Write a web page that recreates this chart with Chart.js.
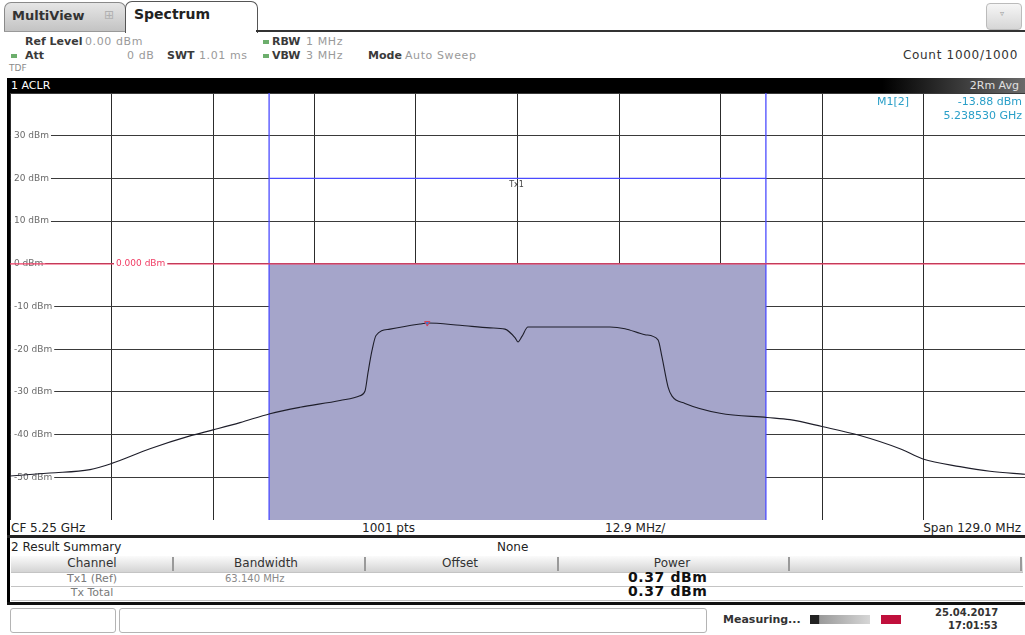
<!DOCTYPE html>
<html>
<head>
<meta charset="utf-8">
<script src="https://cdn.jsdelivr.net/npm/chart.js@4.4.1/dist/chart.umd.min.js"></script>
<style>
  html, body { margin: 0; padding: 0; background: #fff; }
  body { width: 1025px; height: 635px; position: relative; overflow: hidden;
         font-family: "DejaVu Sans", sans-serif; color: #222; }
  .a { position: absolute; white-space: nowrap; }
  .key { font-size: 11px; font-weight: 600; color: #3a3a3a; }
  .val { font-size: 11px; color: #9a9a9a; letter-spacing: 0.6px; }
  .dash { position: absolute; width: 6px; height: 4px; background: #6cae6c; }
  .hdr { font-size: 12px; color: #333; transform: translateX(-50%); }
  .cell { font-size: 11px; color: #7a7a7a; }
  .pow { font-size: 14px; font-weight: bold; color: #111; letter-spacing: 0.6px; }
  .hline { position: absolute; height: 1px; background: #c4c4c4; left: 11px; width: 1012px; }
  .sep { position: absolute; width: 2px; top: 557px; height: 14px; background: #9a9a9a; }
  #spec { position: absolute; left: 10px; top: 93px; }
</style>
</head>
<body>
  <!-- tab strip -->
  <div class="a" style="left:4px;top:2px;width:120px;height:29px;background:linear-gradient(#e6e6e6,#c2c2c2);border:1px solid #8a8a8a;border-bottom:none;border-radius:7px 7px 0 0;"></div>
  <div class="a" style="left:12px;top:8px;font-size:13px;font-weight:bold;color:#333;">MultiView</div>
  <div class="a" style="left:104px;top:8px;font-size:12px;color:#b0b0b0;">⊞</div>
  <div class="a" style="left:125px;top:1px;width:131px;height:31px;background:#fff;border:1px solid #555;border-bottom:none;border-radius:7px 7px 0 0;"></div>
  <div class="a" style="left:134px;top:6px;font-size:14px;font-weight:bold;color:#222;">Spectrum</div>
  <div class="a" style="left:4px;top:31px;width:121px;height:1px;background:#999;"></div>
  <div class="a" style="left:256px;top:30px;width:769px;height:2px;background:#333;"></div>
  <div class="a" style="left:986px;top:3px;width:34px;height:25px;background:linear-gradient(#f6f6f6,#d6d6d6);border:1px solid #bbb;border-radius:4px;"></div>
  <div class="a" style="left:1000px;top:9px;font-size:8px;color:#999;">▿</div>

  <!-- settings header -->
  <div class="a key" style="left:25px;top:35px;">Ref Level</div>
  <div class="a val" style="left:85px;top:35px;">0.00 dBm</div>
  <div class="dash" style="left:263px;top:40px;"></div>
  <div class="a key" style="left:272px;top:35px;">RBW</div>
  <div class="a val" style="left:306px;top:35px;">1 MHz</div>
  <div class="dash" style="left:11px;top:54px;"></div>
  <div class="a key" style="left:25px;top:49px;">Att</div>
  <div class="a val" style="left:127px;top:49px;">0 dB</div>
  <div class="a key" style="left:167px;top:49px;">SWT</div>
  <div class="a val" style="left:199px;top:49px;">1.01 ms</div>
  <div class="dash" style="left:263px;top:54px;"></div>
  <div class="a key" style="left:272px;top:49px;">VBW</div>
  <div class="a val" style="left:306px;top:49px;">3 MHz</div>
  <div class="a key" style="left:368px;top:49px;">Mode</div>
  <div class="a val" style="left:405px;top:49px;">Auto Sweep</div>
  <div class="a" style="left:9px;top:63px;font-size:9px;color:#8a8a8a;">TDF</div>
  <div class="a" style="right:7px;top:48px;font-size:12px;color:#333;letter-spacing:0.7px;">Count 1000/1000</div>

  <!-- window title bar -->
  <div class="a" style="left:7px;top:78px;width:1018px;height:15px;background:linear-gradient(to right,#000 0%,#000 86%,#6a6a6a 100%);"></div>
  <div class="a" style="left:11px;top:79px;font-size:11px;color:#fff;">1 ACLR</div>
  <div class="a" style="right:6px;top:79px;font-size:11px;color:#e0e0e0;">2Rm Avg</div>
  <div class="a" style="left:7px;top:78px;width:3px;height:527px;background:#000;"></div>

  <canvas id="spec" width="1015" height="427"></canvas>

  <!-- marker readout -->
  <div class="a" style="left:925px;top:94px;width:100px;height:28px;background:#fff;"></div>
  <div class="a" style="left:877px;top:95px;font-size:11px;color:#2a9fc8;">M1[2]</div>
  <div class="a" style="right:3px;top:95px;font-size:11px;color:#2a9fc8;">-13.88 dBm</div>
  <div class="a" style="right:3px;top:109px;font-size:11px;color:#2a9fc8;">5.238530 GHz</div>

  <!-- frequency axis footer -->
  <div class="a" style="left:11px;top:521px;font-size:12px;color:#222;">CF 5.25 GHz</div>
  <div class="a" style="left:362px;top:521px;font-size:12px;color:#222;">1001 pts</div>
  <div class="a" style="left:605px;top:521px;font-size:12px;color:#222;">12.9 MHz/</div>
  <div class="a" style="right:4px;top:521px;font-size:12px;color:#222;">Span 129.0 MHz</div>
  <div class="a" style="left:7px;top:535px;width:1018px;height:3px;background:#222;"></div>

  <!-- result summary table -->
  <div class="a" style="left:11px;top:540px;font-size:12px;color:#222;">2 Result Summary</div>
  <div class="a" style="left:497px;top:540px;font-size:12px;color:#222;">None</div>
  <div class="a" style="left:11px;top:556px;width:1012px;height:16px;background:linear-gradient(#fbfbfb,#d4d4d4);"></div>
  <div class="sep" style="left:172px;"></div>
  <div class="sep" style="left:364px;"></div>
  <div class="sep" style="left:557px;"></div>
  <div class="sep" style="left:788px;"></div>
  <div class="sep" style="left:1020px;"></div>
  <div class="a hdr" style="left:92px;top:556px;">Channel</div>
  <div class="a hdr" style="left:266px;top:556px;">Bandwidth</div>
  <div class="a hdr" style="left:460px;top:556px;">Offset</div>
  <div class="a hdr" style="left:672px;top:556px;">Power</div>
  <div class="hline" style="top:572px;"></div>
  <div class="hline" style="top:586px;"></div>
  <div class="hline" style="top:600px;"></div>
  <div class="a cell" style="left:92px;top:572px;transform:translateX(-50%);">Tx1 (Ref)</div>
  <div class="a cell" style="left:225px;top:573px;font-size:10px;color:#8a8a8a;">63.140 MHz</div>
  <div class="a pow" style="left:628px;top:569px;">0.37 dBm</div>
  <div class="a cell" style="left:92px;top:586px;transform:translateX(-50%);">Tx Total</div>
  <div class="a pow" style="left:628px;top:583px;">0.37 dBm</div>
  <div class="a" style="left:7px;top:602px;width:1018px;height:3px;background:#111;"></div>

  <!-- status bar -->
  <div class="a" style="left:10px;top:608px;width:104px;height:23px;border:1px solid #b4b4b4;border-radius:3px;"></div>
  <div class="a" style="left:119px;top:608px;width:586px;height:23px;border:1px solid #b4b4b4;border-radius:3px;"></div>
  <div class="a" style="left:723px;top:613px;font-size:11px;font-weight:600;color:#333;">Measuring...</div>
  <div class="a" style="left:810px;top:615px;width:60px;height:9px;background:linear-gradient(to right,#222 0%,#222 15%,#9a9a9a 16%,#d6d6d6 100%);"></div>
  <div class="a" style="left:881px;top:615px;width:20px;height:9px;background:#c0103c;"></div>
  <div class="a" style="left:935px;top:607px;font-size:10px;font-weight:bold;color:#333;">25.04.2017</div>
  <div class="a" style="left:948px;top:620px;font-size:10px;font-weight:bold;color:#333;">17:01:53</div>

<script>
// Sweep settings
const centerFreqGHz = 5.25;
const spanGHz = 0.129;
const freqStepGHz = 0.0129;          // 12.9 MHz per division
const levelMin = -60;
const levelMax = 40;
const refLevelDbm = 0;
const channelBwGHz = 0.06314;        // Tx1 bandwidth 63.140 MHz
const channelLimitDbm = 20;          // Tx1 limit line

// Trace 1 (RMS average), frequency in GHz and level in dBm
const traceFreqs = [
  5.18550, 5.19058, 5.19567, 5.19834, 5.20329, 5.20838, 5.21130, 5.21473,
  5.21854, 5.22236, 5.22744, 5.22998, 5.23062, 5.23100, 5.23151, 5.23202,
  5.23380, 5.23761, 5.23853, 5.24269, 5.24651, 5.24841, 5.24968, 5.25006,
  5.25057, 5.25133, 5.25540, 5.26176, 5.26366, 5.26620, 5.26786, 5.26836,
  5.26913, 5.26964, 5.27129, 5.27574, 5.28171, 5.28463, 5.28870, 5.29353,
  5.29861, 5.30153, 5.30624, 5.31005, 5.31450
];
const traceLevels = [
  -49.7, -49.0, -48.2, -46.8, -43.3, -40.3, -38.9, -37.2,
  -35.1, -33.6, -32.0, -30.9, -29.8, -25.5, -20.3, -16.8,
  -15.3, -14.1, -13.88, -14.4, -15.0, -15.3, -17.3, -18.3,
  -17.0, -14.8, -14.8, -14.8, -15.2, -16.6, -17.8, -21.8,
  -28.8, -31.0, -32.7, -35.0, -36.0, -36.5, -38.1, -40.2,
  -43.3, -45.7, -47.5, -48.6, -49.3
];

// Marker M1
const markerFreqs = [5.238530];
const markerLevels = [-13.88];

// Level grid values (dBm)
const levelTicks = [40, 30, 20, 10, 0, -10, -20, -30, -40, -50, -60];

const fStart = centerFreqGHz - spanGHz / 2;
const fStop = centerFreqGHz + spanGHz / 2;
const chLo = centerFreqGHz - channelBwGHz / 2;
const chHi = centerFreqGHz + channelBwGHz / 2;
const freqTicks = Array.from({ length: 11 }, (_, k) => fStart + k * freqStepGHz);

const tracePoints = traceFreqs.map((f, i) => ({ x: f, y: traceLevels[i] }));
const markerPoints = markerFreqs.map((f, i) => ({ x: f, y: markerLevels[i] }));

const CHANNEL_BLUE = '#4b4bff';
const REF_RED = '#f03c64';

// Level labels drawn inside the diagram, under the traces
const levelLabels = {
  id: 'levelLabels',
  beforeDatasetsDraw(chart) {
    const { ctx, scales: { x, y } } = chart;
    ctx.save();
    ctx.font = '9px "DejaVu Sans"';
    ctx.textBaseline = 'middle';
    y.ticks.forEach(t => {
      if (t.value === levelMax || t.value === levelMin) return;
      const py = y.getPixelForValue(t.value);
      const label = t.value + ' dBm';
      const w = ctx.measureText(label).width;
      ctx.fillStyle = '#fff';
      ctx.fillRect(x.left + 1, py - 5, w + 5, 10);
      ctx.fillStyle = '#6a6a6a';
      ctx.fillText(label, x.left + 4, py);
    });
    ctx.restore();
  },
  afterDatasetsDraw(chart) {
    const { ctx, scales: { x, y } } = chart;
    ctx.save();
    // reference level readout
    ctx.font = '9px "DejaVu Sans"';
    ctx.textBaseline = 'middle';
    const refTxt = refLevelDbm.toFixed(3) + ' dBm';
    const py = y.getPixelForValue(refLevelDbm);
    const tw = ctx.measureText(refTxt).width;
    ctx.fillStyle = '#fff';
    ctx.fillRect(x.left + 104, py - 5, tw + 4, 10);
    ctx.fillStyle = REF_RED;
    ctx.fillText(refTxt, x.left + 106, py);
    // channel name under the limit line
    ctx.font = '8px "DejaVu Sans"';
    ctx.fillStyle = '#444';
    ctx.textAlign = 'center';
    ctx.fillText('Tx1', x.getPixelForValue(centerFreqGHz) - 1, y.getPixelForValue(channelLimitDbm) + 7);
    ctx.restore();
  }
};

new Chart(document.getElementById('spec'), {
  type: 'line',
  data: {
    datasets: [
      {
        label: 'Trace 1',
        data: tracePoints,
        borderColor: '#1e1e2a',
        borderWidth: 1.1,
        pointRadius: 0,
        cubicInterpolationMode: 'monotone',
        order: 1
      },
      {
        label: 'M1',
        data: markerPoints,
        showLine: false,
        pointStyle: 'triangle',
        rotation: 180,
        pointRadius: 3,
        pointBackgroundColor: '#2a7fe0',
        pointBorderColor: '#e04050',
        pointBorderWidth: 1,
        order: 0
      },
      {
        label: 'Tx1 channel',
        data: [{ x: chLo, y: refLevelDbm }, { x: chHi, y: refLevelDbm }],
        borderWidth: 0,
        pointRadius: 0,
        fill: 'start',
        backgroundColor: '#a5a5ca',
        order: 9
      },
      {
        label: 'Ref level',
        data: [{ x: fStart, y: refLevelDbm }, { x: fStop, y: refLevelDbm }],
        borderColor: REF_RED,
        borderWidth: 1.3,
        pointRadius: 0,
        order: 3
      },
      {
        label: 'Tx1 lower edge',
        data: [{ x: chLo, y: levelMin }, { x: chLo, y: levelMax }],
        borderColor: CHANNEL_BLUE,
        borderWidth: 1.3,
        pointRadius: 0,
        order: 4
      },
      {
        label: 'Tx1 upper edge',
        data: [{ x: chHi, y: levelMin }, { x: chHi, y: levelMax }],
        borderColor: CHANNEL_BLUE,
        borderWidth: 1.3,
        pointRadius: 0,
        order: 4
      },
      {
        label: 'Tx1 limit',
        data: [{ x: chLo, y: channelLimitDbm }, { x: chHi, y: channelLimitDbm }],
        borderColor: CHANNEL_BLUE,
        borderWidth: 1.2,
        pointRadius: 0,
        order: 4
      }
    ]
  },
  options: {
    responsive: false,
    animation: false,
    devicePixelRatio: 1,
    layout: { padding: 0, autoPadding: false },
    plugins: { legend: { display: false }, tooltip: { enabled: false } },
    scales: {
      x: {
        type: 'linear',
        min: fStart,
        max: fStop,
        afterBuildTicks: s => { s.ticks = freqTicks.map(v => ({ value: v })); },
        ticks: { display: false },
        grid: { color: '#2c2c2c', lineWidth: 1, drawTicks: false },
        border: { display: false }
      },
      y: {
        type: 'linear',
        min: levelMin,
        max: levelMax,
        afterBuildTicks: s => { s.ticks = levelTicks.map(v => ({ value: v })); },
        ticks: { display: false },
        grid: { color: '#3a3a3a', lineWidth: 1, drawTicks: false },
        border: { display: false }
      }
    }
  },
  plugins: [levelLabels]
});
</script>
</body>
</html>
